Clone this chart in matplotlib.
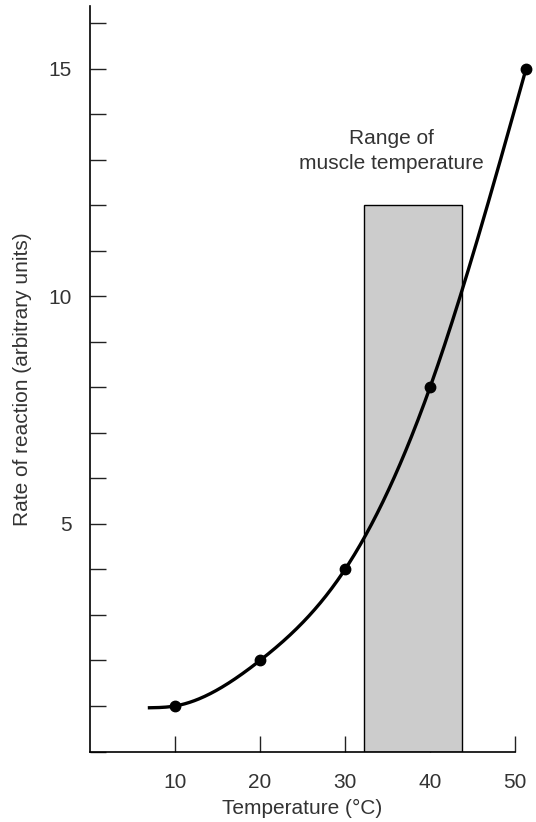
import numpy as np
import matplotlib
matplotlib.use("Agg")
import matplotlib.pyplot as plt
from matplotlib.patches import Rectangle

plt.rcParams['font.family'] = ['Liberation Sans', 'DejaVu Sans']

# Data
temps = [10, 20, 30, 40, 51.3]
rates = [1, 2, 4, 8, 15]
curve_start = (6.8, 0.96)
muscle_range = (32.2, 43.8)
muscle_top = 12.0
x_ticks = [10, 20, 30, 40, 50]
y_ticks_major = [5, 10, 15]
y_ticks_minor = list(range(0, 17))

TXT = '#333333'


def natural_spline(xk, yk, xs):
    xk = np.asarray(xk, float); yk = np.asarray(yk, float)
    n = len(xk)
    h = np.diff(xk)
    A = np.zeros((n, n)); b = np.zeros(n)
    A[0, 0] = 1; A[-1, -1] = 1
    for i in range(1, n - 1):
        A[i, i - 1] = h[i - 1]
        A[i, i] = 2 * (h[i - 1] + h[i])
        A[i, i + 1] = h[i]
        b[i] = 3 * ((yk[i + 1] - yk[i]) / h[i] - (yk[i] - yk[i - 1]) / h[i - 1])
    c = np.linalg.solve(A, b)
    out = np.empty_like(xs)
    for j, x in enumerate(xs):
        i = min(max(np.searchsorted(xk, x) - 1, 0), n - 2)
        dx = x - xk[i]
        bi = (yk[i + 1] - yk[i]) / h[i] - h[i] * (2 * c[i] + c[i + 1]) / 3
        di = (c[i + 1] - c[i]) / (3 * h[i])
        out[j] = yk[i] + bi * dx + c[i] * dx ** 2 + di * dx ** 3
    return out


fig = plt.figure(figsize=(5.36, 8.22), dpi=100)
ax = fig.add_axes([90 / 536, 1 - 751.5 / 822, (515 - 90) / 536, (751.5 - 6) / 822])

ax.set_xlim(0, 50)
ax.set_ylim(0, 16.38)

rect = Rectangle((muscle_range[0], 0), muscle_range[1] - muscle_range[0], muscle_top,
                 facecolor='#cccccc', edgecolor='black', linewidth=1.0, zorder=2)
ax.add_patch(rect)

kx = [curve_start[0]] + temps
ky = [curve_start[1]] + rates
xs = np.linspace(kx[0], kx[-1], 400)
ys = natural_spline(kx, ky, xs)
ax.plot(xs, ys, color='black', lw=2.4, zorder=3, clip_on=False, solid_capstyle='butt')
ax.plot(temps, rates, 'o', color='black', markersize=7.5, zorder=4, clip_on=False)

ax.text(35.5, 13.2, "Range of\nmuscle temperature", ha='center', va='center',
        fontsize=15, linespacing=1.4, color=TXT)

for s in ['top', 'right']:
    ax.spines[s].set_visible(False)
for s in ['left', 'bottom']:
    ax.spines[s].set_linewidth(1.2)

ax.set_xticks(x_ticks)
ax.set_yticks(y_ticks_minor, minor=True)
ax.set_yticks(y_ticks_major)
ax.tick_params(axis='both', which='both', direction='in', width=1.0, color='#222222',
               labelcolor=TXT)
ax.tick_params(axis='x', length=11.5, labelsize=15, pad=15.5)
ax.tick_params(axis='y', which='both', length=11.5, labelsize=15, pad=13)

ax.set_xlabel("Temperature (°C)", fontsize=15, labelpad=5, color=TXT)
ax.set_ylabel("Rate of reaction (arbitrary units)", fontsize=15, labelpad=12, color=TXT)

fig.savefig("out.png", dpi=100)
